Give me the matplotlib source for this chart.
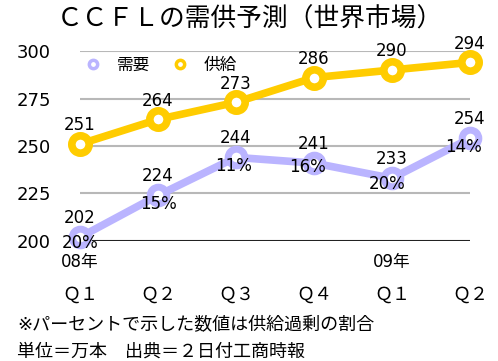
import matplotlib
matplotlib.use("Agg")
import matplotlib.pyplot as plt

plt.rcParams['font.family'] = ['DejaVu Sans', 'Noto Sans CJK JP']

quarters = ['Ｑ１', 'Ｑ２', 'Ｑ３', 'Ｑ４', 'Ｑ１', 'Ｑ２']
years = {0: '08年', 4: '09年'}
demand = [202, 224, 244, 241, 233, 254]
supply = [251, 264, 273, 286, 290, 294]
surplus = ['20%', '15%', '11%', '16%', '20%', '14%']
yticks = [200, 225, 250, 275, 300]

purple = '#bab4ff'
yellow = '#ffcc00'

W, H = 498, 361
fig = plt.figure(figsize=(W / 100, H / 100), dpi=100)
ax = fig.add_axes([80 / W, (H - 241) / H, 390 / W, 190 / H])

x = list(range(len(quarters)))

for yv in yticks[1:]:
    ax.axhline(yv, color='#b8b8b8', lw=1.5, zorder=1)
ax.axhline(200, color='#222222', lw=1.5, zorder=1)

ax.plot(x, demand, color=purple, lw=5.5, marker='o', ms=12, mfc='white',
        mec=purple, mew=5, clip_on=False, zorder=3, label='需要')
ax.plot(x, supply, color=yellow, lw=5.5, marker='o', ms=12.5, mfc='white',
        mec=yellow, mew=5.5, clip_on=False, zorder=3, label='供給')

# ラベル (オフセットはポイント単位)
pct_dx = [0, 0, -2, -5, -3.5, -5]
pct_dy = [-4, -6, -6, -2.5, -4, -6.5]
for i in x:
    ax.annotate(str(supply[i]), (i, supply[i]), xytext=(0, 13.5),
                textcoords='offset points', ha='center', va='center',
                fontsize=12, zorder=5)
    ax.annotate(str(demand[i]), (i, demand[i]), xytext=(0, 14),
                textcoords='offset points', ha='center', va='center',
                fontsize=12, zorder=5)
    ax.annotate(surplus[i], (i, demand[i]), xytext=(pct_dx[i], pct_dy[i]),
                textcoords='offset points', ha='center', va='center',
                fontsize=12, zorder=5)

ax.set_xlim(0, 5)
ax.set_ylim(200, 300)
ax.set_yticks(yticks)
ax.set_yticklabels([str(v) for v in yticks], fontsize=13)
ax.tick_params(axis='y', length=0, pad=21)
ax.set_xticks([])
for s in ax.spines.values():
    s.set_visible(False)

for i, q in enumerate(quarters):
    ax.annotate(q, (i, 200), xytext=(0, -39), textcoords='offset points',
                ha='center', va='center', fontsize=13)
    if i in years:
        ax.annotate(years[i], (i, 200), xytext=(0, -15),
                    textcoords='offset points', ha='center', va='center',
                    fontsize=12)

leg = ax.legend(loc='center left', bbox_to_anchor=(0.0, 0.925), ncol=2,
                frameon=False, fontsize=12, borderaxespad=0, borderpad=0,
                handlelength=1.6, columnspacing=1.0, handletextpad=0.6)
for h in leg.legend_handles:
    h.set_linewidth(0)
    h.set_markersize(6)
    h.set_markeredgewidth(2.5)

fig.text(250 / W, 1 - 20 / H, 'ＣＣＦＬの需供予測（世界市場）',
         ha='center', va='center', fontsize=18.5)
fig.text(17 / W, 1 - 325 / H, '※パーセントで示した数値は供給過剰の割合',
         ha='left', va='center', fontsize=13)
fig.text(17 / W, 1 - 352 / H, '単位＝万本　出典＝２日付工商時報',
         ha='left', va='center', fontsize=13)

fig.savefig('out.png', dpi=100)
